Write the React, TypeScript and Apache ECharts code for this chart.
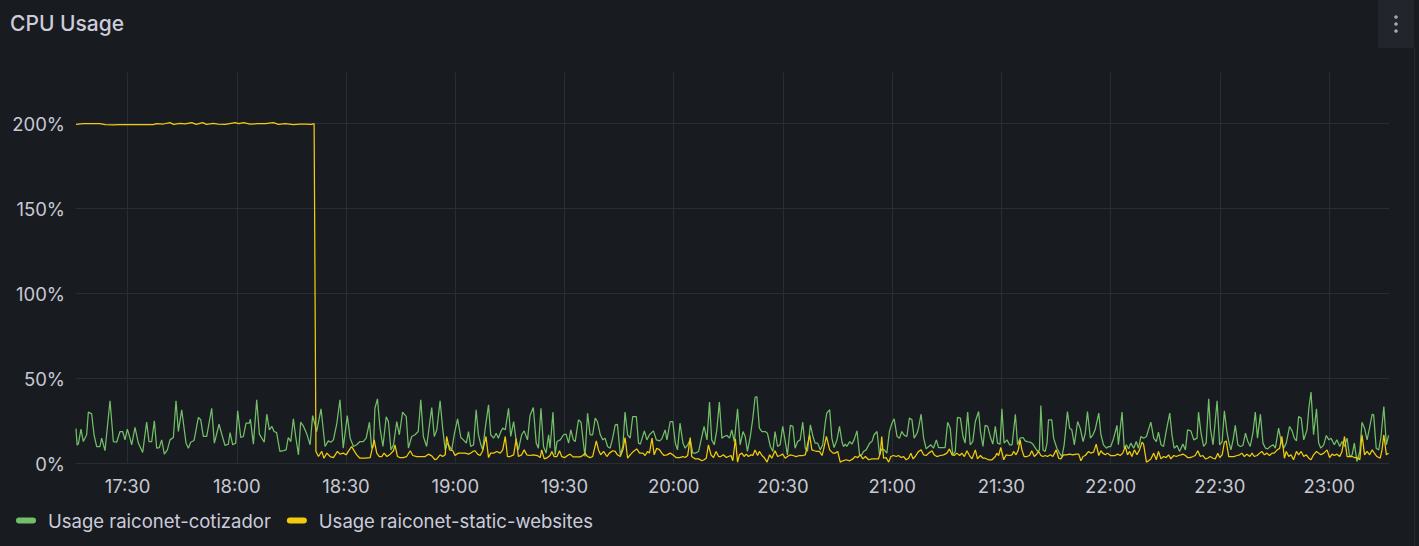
import React, { useEffect, useRef } from "react";
import * as echarts from "echarts";

// Time range: minutes after 17:15:50 (6 h window)
const START = new Date(2024, 0, 15, 17, 15, 50).getTime();
const SPAN_MINUTES = 360.7;

const seriesNames = ["Usage raiconet-cotizador", "Usage raiconet-static-websites"];
const seriesColors = ["#73BF69", "#F2CC0C"];
const yTicks = [0, 50, 100, 150, 200];
const xTickLabels = ["17:30", "18:00", "18:30", "19:00", "19:30", "20:00", "20:30", "21:00", "21:30", "22:00", "22:30", "23:00"];

// [minute offset, CPU %]
const cotizadorPoints: [number, number][] = [
  [0,20.5],[0.3,10.8],[0.64,11.4],[1.37,20.2],[2.01,12.9],[2.93,16.9],[3.39,30.2],[4.3,29.2],[4.95,16.9],[5.68,10],[6.59,10],[7.05,14.9],[7.97,7.6],[9.34,36.9],[10.26,12.9],[11.17,12.5],[12.09,18.8],[12.82,18.8],[13.46,13.9],[14.1,20.2],[14.83,14.9],[15.29,11],[16.21,21.2],[17.12,12],[18.31,6.5],[19.41,24.3],[20.05,12.9],[20.79,12.9],[21.52,25.1],[22.16,9],[22.89,9.4],[23.53,13.9],[24.27,5.5],[25.09,8],[25.82,13.9],[26.74,15.3],[27.47,36.9],[28.11,18.8],[29.03,31.6],[30.22,12],[30.86,9],[31.5,12.5],[32.42,13.5],[33.61,27.1],[34.25,25.7],[34.98,15.9],[35.9,15.9],[37.27,32.5],[38,12],[39.29,23.1],[40.02,17.3],[40.93,10.6],[41.85,11.4],[42.31,18.2],[43.04,11],[43.86,12],[44.41,31],[45.24,15.3],[45.97,15.9],[46.7,23.7],[47.62,23.7],[47.89,26.1],[48.72,11.4],[49.63,37.5],[50.37,17.3],
  [51.7,12.5],[52.4,29],[53.1,19.8],[53.8,21.8],[54.4,18.8],[55.1,18.2],[56,7.1],[57,7.6],[57.7,8],[58.3,15.3],[59,12.9],[59.7,26.3],[60.4,14.9],[61.1,5.1],[61.7,24.3],[62.5,21.8],[63.4,17.3],[64.3,11],[65,28.2],[66.1,18.8],[67.3,32.2],[68.4,10],[69.3,13.3],[70,12.5],[70.7,13.9],[71.6,23.1],[72.5,37.5],[73.4,9],[74.5,28.2],[75.3,14.9],[76.2,10],[77.1,11],[78,12.9],[78.9,12.9],[79.7,14.9],[80.6,24.3],[81.2,9],[81.7,10],[82.1,32.5],[82.8,38],[83.5,20.8],[84.3,10],[85.2,27.5],[85.8,24.7],[86.5,8],[87.2,11],[88.1,24.7],[88.8,16.9],[89.7,30.2],[90.7,27.6],[91.3,9],[92.2,15.9],[93.1,16.9],[94,18.8],[94.7,37.5],[95.4,15.9],[96.3,10],[97.7,32.9],[98.4,15.9],[99.1,19.8],[100,36.9],[100.7,20.8],[101.4,8],[102,12],
  [103.2,8],[103.9,17.3],[104.8,26.3],[105.7,15.3],[106.4,13.9],[107.2,12],[107.8,18.8],[108.4,10],[109.2,11],[109.9,31.6],[110.5,17.3],[111.2,11],[111.7,8],[112.4,20.8],[113.3,34.5],[113.9,16.9],[114.7,14.9],[115.4,17.8],[116,14.9],[116.7,18.8],[117.2,20.8],[117.9,19.8],[118.8,32.5],[119.4,15.9],[120.2,24.7],[120.9,13.3],[121.5,8],[122.4,16.9],[123.1,19.2],[124,13.9],[124.7,28.2],[125.6,32.9],[126.4,12],[127,9],[127.7,32.5],[128.4,10],[129.1,6.1],[129.8,16.9],[130.2,9],[131,30.2],[131.6,5.1],[132.1,12.9],[133,13.9],[133.9,16.9],[134.6,17.3],[135.3,12],[135.9,19.8],[136.6,13.9],[137.1,12.9],[138,25.7],[138.7,24.3],[139.2,14.9],[139.8,4.1],[140.5,29.6],[141.2,16.9],[141.9,16.9],[142.6,26.7],[143.2,24.7],[144,16.9],[144.7,13.9],[145.3,14.9],[146,10],[146.7,9],[147.4,14.9],[148.1,22.7],[148.7,23.1],[149.5,5.1],[150.2,10],[150.8,30.2],[151.5,16.9],[152.2,14.9],[152.9,27.6],[153.9,27.6],[154.5,12],
  [155,11.4],[156.1,19.2],[156.8,13.9],[157.5,16.9],[158.6,19.2],[159.4,13.9],[160.3,13.3],[160.9,14.5],[161.8,19.8],[162.3,13.9],[163.2,24.7],[163.9,24.7],[164.6,12],[165.2,8],[165.9,23.7],[166.7,12],[167.3,9],[168,11],[168.7,13.9],[169.4,6.1],[170.1,6.1],[171,7.1],[171.9,15.9],[172.5,21.8],[173.3,13.9],[174,36.1],[174.6,13.9],[175.3,11],[176,19.8],[176.7,36.1],[177.4,14.9],[178,15.9],[178.8,16.5],[179.5,14.9],[180.1,19.8],[180.8,12.9],[181.7,32.2],[182.4,11],[183.2,18.8],[183.8,15.9],[184.4,7.1],[185.2,15.9],[185.9,26.7],[186.5,38.8],[187,39.4],[187.7,20.8],[188.4,18.8],[189.3,18.8],[189.9,17.8],[190.7,10],[191.4,7.1],[192,18.8],[192.7,10],[193.4,11],[194.1,21.8],[194.8,12.9],[195.4,5.1],[196.2,22.4],[196.9,21.8],[197.5,9],[198.2,12.9],[198.9,13.9],[199.6,24.3],[200.3,9],[200.9,7.1],[201.7,22.7],[202.4,15.9],[203,12],[203.7,12],[204.4,8],[205.1,11],[205.8,24.3],[206.2,29.6],[207,31.6],
  [207.6,14.9],[208.2,9.4],[209,13.9],[209.7,21.8],[210.4,12.5],[210.8,10],[211.3,11.4],[211.7,10],[212.5,12.9],[213.1,11.4],[213.7,13.9],[214.5,19.2],[215.2,5.1],[215.8,5.1],[216.3,7.1],[217,8],[218,12],[218.6,12.9],[219.2,16.9],[220,18.8],[220.7,5.1],[221.3,8.6],[222,8],[222.7,6.1],[223.4,18.8],[224.1,23.7],[224.7,26.3],[225.5,15.9],[226.2,14.9],[226.8,18.8],[227.5,16.5],[228.2,15.9],[228.9,26.7],[229.6,25.7],[230.2,14.9],[231,17.8],[231.4,20.8],[232.1,29],[232.8,14.9],[233.5,8.6],[234.2,10],[234.8,11],[235.5,9],[236.3,13.9],[236.9,9.4],[237.8,9.4],[238.7,9.4],[239.4,24.3],[240.1,20.8],[240.8,5.1],[241.5,7.1],[242.1,27.1],[242.9,26.7],[243.6,15.9],[244.2,12],[244.9,30.2],[245.6,11],[246.3,12.9],[247,24.7],[247.9,30.6],[248.4,18.8],[249.1,10],[249.7,22.4],[250.4,21.8],[251.1,15.9],[251.8,11.4],[252.5,21.8],[253.1,12],[253.8,11.4],[254.3,32.2],[254.9,12],[255.7,13.9],[256.4,11],[257.1,11],[258,29],[258.6,11],[259.3,14.9],
  [260.1,15.3],[260.7,13.3],[261.3,12.9],[262.1,12.5],[262.8,11.4],[263.5,9],[264.1,7.1],[264.6,8],[265,34.1],[265.6,8],[266.2,7.1],[266.7,12],[267.1,25.7],[268,25.7],[268.5,14.9],[269.4,9],[270.1,6.1],[270.8,4.1],[271.4,11],[272.3,30.6],[272.9,20.8],[273.5,19.8],[274.2,11],[275.1,24.7],[275.8,20.8],[276.6,12.9],[277.2,17.8],[277.8,30.6],[278.6,14.9],[279.3,16.9],[279.9,19.8],[280.9,29.6],[281.5,16.9],[282.2,11],[283,9],[283.6,10],[284.2,10],[285,14.9],[285.9,22.4],[286.3,11],[287.3,30.2],[287.9,9],[288.5,11],[289.1,8.6],[289.7,12],[290.5,9],[291.2,12.9],[291.8,9],[292.5,15.9],[293.2,14.9],[294,15.9],[295.2,24.3],[296,14.9],[296.7,12.9],[297.3,18.4],[298,11],[298.7,10],[299.4,18.8],[300.4,29.6],[301,16.9],[301.6,9],[302.4,10.6],[303.1,7.1],[304,11.4],[304.7,8],[305.3,19.8],[306.2,19.2],[307,13.9],[307.9,14.9],[308.3,30.2],[309,17.8],[309.7,10],[310.4,12],[311.1,38],
  [311.6,20],[312.3,11],[313.4,36.9],[314.1,11],[314.8,12.9],[315.4,31],[316.1,18.8],[316.6,12.9],[317.2,8],[317.8,13.9],[318.4,22.4],[319.1,11],[319.8,10],[320.5,10.6],[321.2,17.8],[321.8,13.3],[322.5,10],[323.3,18.8],[323.9,30.2],[324.5,14.9],[325.3,29],[326,12],[326.7,9],[327.3,8.6],[328,10],[328.8,11],[329.4,9],[330.3,20.8],[331,12.9],[331.7,9],[332.4,12],[333.3,21.8],[334,19.2],[334.6,14.9],[335.2,13.3],[335.8,27.6],[336.5,26.7],[337.2,13.9],[338.1,19.8],[338.6,32.5],[339.2,42],[339.9,16.9],[340.7,32.2],[341.3,12],[341.9,9],[342.7,11],[343.4,16.5],[344.1,13.9],[344.7,14.9],[345.6,11],[346.3,13.9],[347.1,10],[347.7,12.9],[348.4,10],[349.1,14.9],[349.8,4.1],[350.5,5.1],[351.1,12],[351.8,1.2],[352.6,7.1],[353.2,24.3],[353.9,20.8],[354.6,13.9],[355.3,21.2],[356,29],[356.4,28.6],[357.1,9],[357.8,8],[358.4,15.3],[359.2,33.5],[359.9,11],[360.5,16.5],
];

const staticWebsitesPoints: [number, number][] = [
  [0,199.5],[2,199.9],[4,199.9],[6.6,199.9],[8,199.4],[10.3,199.2],[12,199.4],[13.9,199.3],[16,199.3],[18,199.4],[21.2,199.3],[22.2,199.9],[24,199.7],[25.8,200.5],[26.8,199.5],[28.6,200.1],[30,199.8],[31.8,200.5],[33,199.5],[34.8,200.5],[35.8,199.5],[37.7,200.1],[39,199.7],[41,199.5],[43.7,200.5],[44.7,199.9],[46,200.5],[47.8,199.6],[50,199.9],[52,199.9],[54.2,200.5],[55.6,199.5],[57.5,199.9],[59.7,199.3],[61.5,199.6],[63,199.7],[64.7,199.5],[65.4,199.9],
  [65.9,7.1],[66.6,4.1],[67.5,7.1],[68.1,3.1],[68.9,6.1],[69.8,4.1],[70.7,3.5],[71.8,7.1],[72.5,5.5],[73.4,6.1],[74.2,5.1],[74.8,7.1],[75.7,10],[76.5,7.1],[77.1,5.1],[78,3.1],[79.4,3.1],[80.8,3.5],[81.9,13.9],[82.6,6.1],[83.3,4.1],[84,4.1],[84.6,6.1],[85.4,4.1],[86.3,5.5],[87.2,7.5],[87.6,11],[88.3,4.1],[89,3.5],[89.9,3.5],[90.8,4.1],[91.8,7.5],[92.5,4.7],[93.6,4.1],[94.5,4.1],[95.9,4.1],[96.8,5.5],[97.7,4.5],[98.6,2.2],[99.1,2.7],[100,5.1],[100.7,4.1],[101.4,5.1],[101.8,15.9],[102.6,8],
  [103.5,7.5],[104.1,4.7],[105,6.1],[106,6.1],[106.9,6.1],[107.8,5.5],[108.4,6.1],[109,7.1],[109.6,7.5],[110.3,5.5],[111,4.7],[111.7,7.5],[112.6,15.9],[113.3,3.5],[113.9,6.1],[114.7,6.1],[115.6,7.1],[116.5,6.1],[117.2,8],[117.9,15.9],[118.5,4.1],[119.2,4.1],[120.2,5.1],[120.9,14.5],[121.5,4.1],[122.4,5.1],[123.1,8],[123.8,5.1],[124.7,4.7],[125.6,5.1],[126.7,4.7],[127.5,3.5],[127.9,8],[128.6,2.7],[129.5,3.5],[130.2,4.7],[130.7,7.1],[131.3,4.1],[132.1,4.1],[132.8,7.5],[133.4,4.1],[134.3,3.5],[135,4.7],[135.7,5.5],[136.5,3.9],[137.4,3.9],[138.5,3.9],[139.2,4.7],[139.8,6.1],[140.5,4.1],[141.2,3.5],[141.9,4.1],[142.9,13.3],[143.5,8],[144.1,5.1],[144.9,7.1],[145.8,4.1],[146.5,6.1],[147.4,7.5],[148.1,7.1],[148.7,5.1],[149.5,4.1],[150.2,8],[150.8,15.3],[151.5,3.1],[152.2,5.1],[153.1,7.1],[154,8.6],[154.8,6.1],
  [155.7,6.1],[156.3,4.7],[157,7.1],[157.5,6.1],[158.2,14.9],[158.8,5.1],[159.5,9],[160.3,8],[160.9,6.1],[161.5,4.7],[162.3,5.1],[163.2,6.1],[163.9,5.1],[164.8,3.5],[165.8,3.5],[166.7,4.1],[167.3,3.5],[168,4.7],[168.7,15.3],[169.1,4.1],[170.1,2.7],[171,2.7],[171.9,1.6],[172.5,2.2],[173.1,3.1],[173.7,11],[174.4,5.1],[175.1,3.5],[175.8,7.1],[176.5,4.1],[177.1,4.1],[177.8,5.1],[178.6,3.5],[179.2,4.1],[179.9,4.7],[180.4,1.6],[181.1,14.5],[181.7,0.8],[182.2,5.1],[182.9,6.1],[183.5,4.1],[184.1,5.5],[184.7,4.1],[185.4,5.1],[185.9,4.7],[186.5,8],[187.2,4.7],[187.7,7.1],[188.4,4.7],[189,3.5],[189.8,0.8],[190.5,5.1],[191.1,3.1],[192,7.5],[192.7,4.1],[193.4,4.7],[194.1,5.5],[194.8,3.1],[195.4,4.1],[196.2,5.1],[196.9,4.7],[197.8,4.1],[198.7,4.7],[199.6,4.7],[200.3,5.1],[200.9,11],[201.5,16.9],[202.1,8],[202.8,7.5],[203.5,7.1],[204.2,7.1],[204.9,4.7],[205.3,8],[206.1,15.9],[207,8],
  [207.9,6.1],[208.5,6.1],[209.2,7.1],[209.9,0.8],[210.6,1.6],[211.5,2.2],[212.5,1.6],[213.4,2.7],[214,4.1],[214.7,3.5],[215.4,5.1],[216.1,2.7],[216.8,4.1],[217.7,2.2],[218.6,2.7],[219.5,2.7],[220.4,2.7],[220.9,6.1],[221.3,15.9],[221.8,3.1],[222.5,3.5],[223.2,0.8],[223.8,4.1],[224.5,4.7],[225.3,4.1],[225.9,4.7],[226.6,3.5],[227.3,4.1],[228,2.2],[228.7,3.1],[229.3,6.1],[229.9,2.7],[230.5,4.1],[231.4,7.1],[232.1,8],[232.8,5.1],[233.5,4.7],[234.2,6.1],[235.1,7.5],[235.7,5.1],[236.4,4.1],[237.4,4.7],[238.3,5.1],[239.2,6.1],[239.9,8.6],[240.6,5.1],[241.2,4.7],[241.9,6.1],[242.7,4.7],[243.3,6.1],[244,4.1],[244.7,7.5],[245.4,4.7],[246.1,2.7],[247,8],[247.6,2.7],[248.4,4.7],[249.1,3.1],[249.7,3.1],[250.6,2.2],[251.6,2.2],[252.5,4.1],[252.9,6.1],[253.4,4.7],[254,9.4],[254.8,2.2],[255.5,5.1],[256.4,4.7],[257.1,5.1],[257.5,7.1],[258.2,5.1],[258.8,8],
  [259.3,13.9],[259.8,8],[260.4,4.1],[261.2,4.1],[261.9,4.7],[262.5,7.5],[263.2,4.1],[263.7,5.1],[264.4,7.1],[265,4.7],[265.6,4.1],[266.2,4.7],[266.8,4.1],[267.6,5.1],[268.3,4.1],[269.2,8],[269.9,3.1],[270.5,2.7],[271.2,5.1],[272,5.1],[272.9,5.5],[273.8,5.1],[274.7,5.5],[275.4,5.5],[276,1.6],[276.6,4.1],[277.2,4.7],[278.1,7.1],[278.7,6.1],[279.5,6.7],[280.2,11.4],[280.9,4.7],[281.5,7.5],[282,6.1],[282.7,5.1],[283.3,6.1],[284.1,4.7],[284.8,4.7],[285.4,4.7],[286.1,5.5],[286.8,4.7],[287.5,6.1],[288.2,10],[288.8,5.1],[289.4,7.1],[290,4.1],[290.7,8],[291.4,5.1],[292.1,8],[292.8,12.5],[293.2,11.4],[294,0.8],[294.6,1.6],[295.2,2.7],[296,6.1],[296.7,2.2],[297.3,7.1],[298,2.7],[298.7,4.1],[299.4,3.5],[300.1,5.1],[300.7,2.7],[301.5,4.7],[302.2,4.1],[302.8,4.7],[303.5,5.1],[304,5.5],[304.7,4.7],[305.3,3.5],[306,3.5],[306.8,4.1],[307.4,4.7],[308.1,7.5],[308.8,4.1],[309.5,4.7],[310.2,2.7],[310.8,3.1],[311.5,4.1],
  [312.3,3.1],[312.9,2.7],[313.6,6.1],[314.1,3.5],[314.8,5.1],[315.4,12.5],[315.9,13.3],[316.6,4.1],[317.2,4.1],[318,4.1],[318.9,4.7],[319.6,5.1],[320.2,6.1],[320.9,4.1],[321.6,5.5],[322.4,4.1],[323,6.1],[323.6,4.1],[324.4,4.7],[325.1,6.1],[325.7,7.1],[326.4,5.1],[327.1,6.1],[327.8,4.7],[328.5,6.1],[329.1,6.1],[329.9,8],[330.6,9],[331.2,15.9],[331.9,3.1],[332.4,7.1],[333.1,4.1],[333.7,5.1],[334.4,2.2],[335.2,7.1],[335.8,5.1],[336.5,7.1],[337.2,4.1],[337.9,5.1],[338.6,3.1],[339.2,2.2],[339.9,5.1],[340.7,7.1],[341.3,6.1],[341.9,5.1],[342.7,6.1],[343.6,8],[344.3,3.5],[345,5.5],[345.6,4.7],[346.3,5.5],[347.1,4.1],[347.7,7.1],[348.4,15.9],[349.1,4.1],[349.8,4.1],[350.5,4.1],[351.1,3.5],[351.8,3.5],[352.6,2.2],[353.2,16.9],[353.9,5.1],[354.6,7.1],[355.3,5.1],[356,8],[356.6,6.1],[357.3,4.1],[358.2,3.1],[358.7,8],[359.2,16.9],[359.9,5.1],[360.5,6.1],
];

const toSeries = (pts: [number, number][]) => pts.map(([m, v]) => [START + m * 60000, v]);

const tickTimes = xTickLabels.map((s) => {
  const [h, mm] = s.split(":").map(Number);
  return new Date(2024, 0, 15, h, mm, 0).getTime();
});

const pad = (n: number) => (n < 10 ? "0" + n : "" + n);

export default function App() {
  const ref = useRef<HTMLDivElement>(null);
  useEffect(() => {
    document.body.style.margin = "0";
    document.body.style.background = "#181b1f";
    if (!ref.current) return;
    const chart = echarts.init(ref.current, undefined, { renderer: "svg" });
    const labelColor = "#c7c8d4";
    const gridColor = "#2a2d33";
    const font = "Inter";
    chart.setOption({
      animation: false,
      backgroundColor: "#181b1f",
      title: {
        text: "CPU Usage",
        left: 10,
        top: 13,
        padding: 0,
        textStyle: { color: "#ccccdc", fontSize: 21, fontWeight: 500, fontFamily: font },
      },
      legend: {
        data: seriesNames,
        left: 16,
        top: 511,
        padding: 0,
        icon: "path://M3,0 H17 A3,3 0 0 1 17,6 H3 A3,3 0 0 1 3,0 Z",
        itemWidth: 20,
        itemHeight: 6,
        itemGap: 16,
        textStyle: { color: "#ccccdc", fontSize: 18.5, fontFamily: font, padding: [0, 0, 0, 7] },
        selectedMode: false,
      },
      grid: { left: 76, right: 29.7, top: 72.5, bottom: 82.5, containLabel: false },
      xAxis: {
        type: "value",
        min: START,
        max: START + SPAN_MINUTES * 60000,
        axisLine: { show: false },
        axisTick: { show: false, customValues: tickTimes },
        splitLine: { show: true, lineStyle: { color: gridColor, width: 1 } },
        axisLabel: {
          customValues: tickTimes,
          color: labelColor,
          fontSize: 18.5,
          fontFamily: font,
          margin: 13,
          formatter: (v: number) => {
            const d = new Date(v);
            return pad(d.getHours()) + ":" + pad(d.getMinutes());
          },
        },
      },
      yAxis: {
        type: "value",
        min: yTicks[0],
        max: 230,
        interval: 50,
        axisLine: { show: false },
        axisTick: { show: false },
        splitLine: { show: true, showMaxLine: false, lineStyle: { color: gridColor, width: 1 } },
        axisLabel: {
          color: labelColor,
          fontSize: 18.5,
          fontFamily: font,
          margin: 11,
          showMaxLabel: false,
          formatter: (v: number) => (yTicks.includes(v) ? v + "%" : ""),
        },
      },
      series: [
        {
          name: seriesNames[0],
          type: "line",
          data: toSeries(cotizadorPoints),
          showSymbol: false,
          symbol: "none",
          color: seriesColors[0],
          lineStyle: { width: 1.25, color: seriesColors[0] },
          emphasis: { disabled: true },
          z: 2,
        },
        {
          name: seriesNames[1],
          type: "line",
          data: toSeries(staticWebsitesPoints),
          showSymbol: false,
          symbol: "none",
          color: seriesColors[1],
          lineStyle: { width: 1.25, color: seriesColors[1] },
          emphasis: { disabled: true },
          z: 3,
        },
      ],
      graphic: [
        { type: "rect", shape: { x: 1378, y: 0, width: 36, height: 48 }, style: { fill: "#22252b" }, silent: true },
        { type: "circle", shape: { cx: 1396, cy: 17, r: 1.8 }, style: { fill: "#a3a9b3" }, silent: true },
        { type: "circle", shape: { cx: 1396, cy: 24, r: 1.8 }, style: { fill: "#a3a9b3" }, silent: true },
        { type: "circle", shape: { cx: 1396, cy: 31, r: 1.8 }, style: { fill: "#a3a9b3" }, silent: true },
        { type: "line", shape: { x1: 1414.5, y1: 47, x2: 1414.5, y2: 546 }, style: { stroke: "#26292f", lineWidth: 1 }, silent: true },
      ],
    });
    return () => chart.dispose();
  }, []);
  return <div ref={ref} style={{ width: 1419, height: 546, background: "#181b1f" }} />;
}
